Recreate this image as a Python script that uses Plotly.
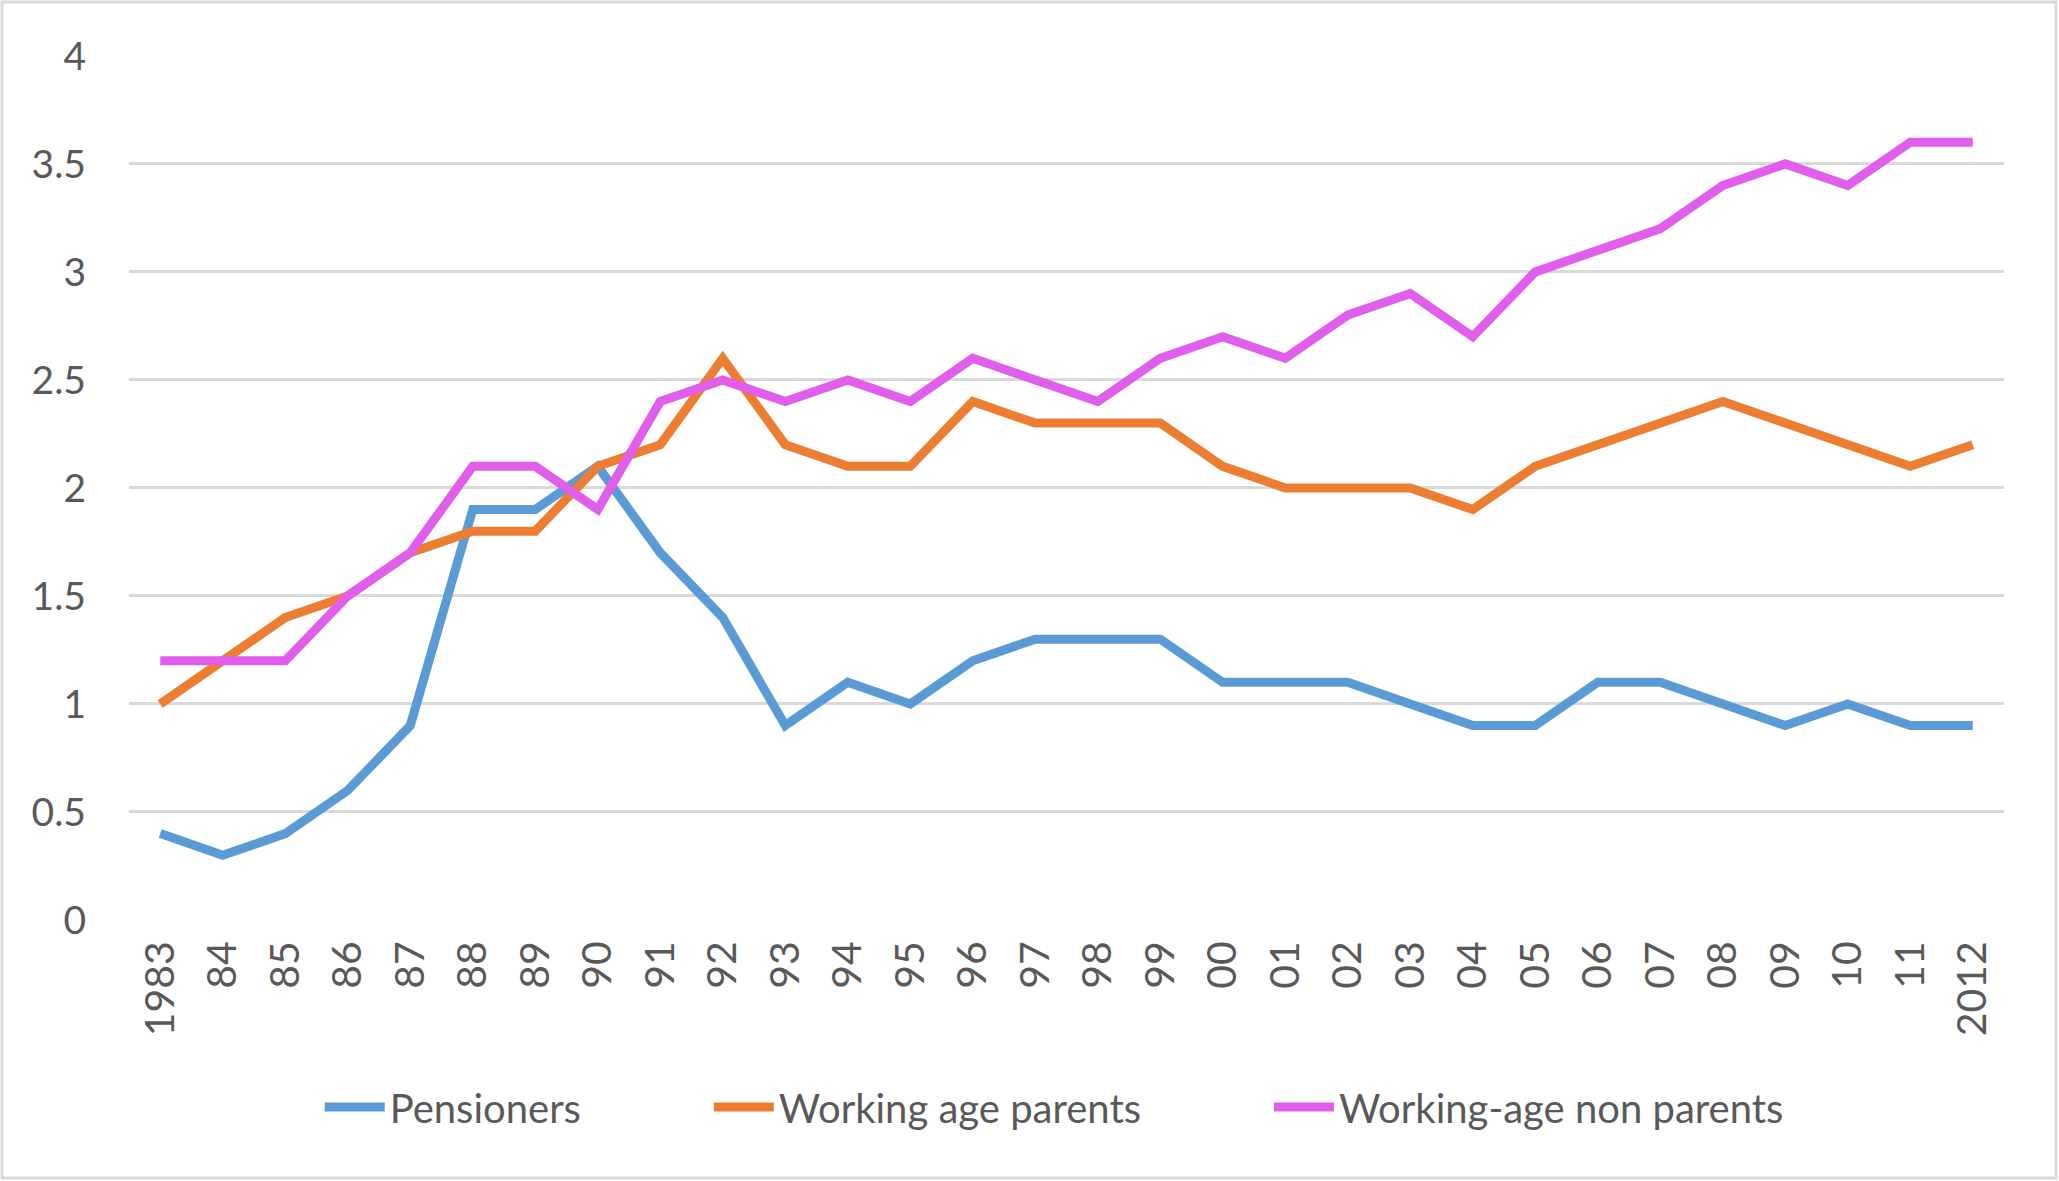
import plotly.graph_objects as go

years = ["1983", "84", "85", "86", "87", "88", "89", "90", "91", "92", "93", "94", "95", "96", "97",
         "98", "99", "00", "01", "02", "03", "04", "05", "06", "07", "08", "09", "10", "11", "2012"]

pensioners = [0.4, 0.3, 0.4, 0.6, 0.9, 1.9, 1.9, 2.1, 1.7, 1.4, 0.9, 1.1, 1.0, 1.2, 1.3,
              1.3, 1.3, 1.1, 1.1, 1.1, 1.0, 0.9, 0.9, 1.1, 1.1, 1.0, 0.9, 1.0, 0.9, 0.9]
working_parents = [1.0, 1.2, 1.4, 1.5, 1.7, 1.8, 1.8, 2.1, 2.2, 2.6, 2.2, 2.1, 2.1, 2.4, 2.3,
                   2.3, 2.3, 2.1, 2.0, 2.0, 2.0, 1.9, 2.1, 2.2, 2.3, 2.4, 2.3, 2.2, 2.1, 2.2]
non_parents = [1.2, 1.2, 1.2, 1.5, 1.7, 2.1, 2.1, 1.9, 2.4, 2.5, 2.4, 2.5, 2.4, 2.6, 2.5,
               2.4, 2.6, 2.7, 2.6, 2.8, 2.9, 2.7, 3.0, 3.1, 3.2, 3.4, 3.5, 3.4, 3.6, 3.6]

y_ticks = [0, 0.5, 1, 1.5, 2, 2.5, 3, 3.5, 4]
y_tick_labels = ["0", "0.5", "1", "1.5", "2", "2.5", "3", "3.5", "4"]

series = [
    ("Pensioners", pensioners, "#5B9BD5"),
    ("Working age parents", working_parents, "#ED7D31"),
    ("Working-age non parents", non_parents, "#E15EED"),
]

NB = "\u00a0"
fig = go.Figure()
for i, (name, vals, color) in enumerate(series):
    label = name + (NB * 12 if i < len(series) - 1 else "")
    fig.add_trace(go.Scatter(x=years, y=vals, name=label, mode="lines",
                             line=dict(color=color, width=9)))

W, H = 2059, 1181
ml, mr, mt, mb = 129, 55, 55, 261
pw, ph = W - ml - mr, H - mt - mb

fig.update_layout(
    width=W, height=H,
    margin=dict(l=ml, r=mr, t=mt, b=mb, autoexpand=False),
    paper_bgcolor="white", plot_bgcolor="white",
    font=dict(family="Lato, Carlito, Calibri, sans-serif", color="#595959", size=40),
    showlegend=True,
    legend=dict(orientation="h", x=0.512, xref="container", xanchor="center",
                y=1 - 1107 / H, yref="container", yanchor="middle",
                font=dict(size=40, color="#595959"), itemwidth=60),
    xaxis=dict(type="category", range=[-0.5, len(years) - 0.5], tickangle=-90,
               showgrid=False, zeroline=False,
               showline=False, ticks="", tickfont=dict(size=41), ticklabelstandoff=12,
               automargin=False),
    yaxis=dict(range=[0, 4.004], tickmode="array", tickvals=y_ticks, ticktext=y_tick_labels,
               showgrid=True, gridcolor="#D9D9D9", gridwidth=3,
               zeroline=False, showline=False, ticks="", tickfont=dict(size=39),
               ticklabelstandoff=42, automargin=False),
    shapes=[dict(type="rect", xref="paper", yref="paper",
                 x0=(2 - ml) / pw, x1=(W - 3 - ml) / pw,
                 y0=-(H - 3 - mt - ph) / ph, y1=(H - mb - 2) / ph,
                 line=dict(color="#D9D9D9", width=3), fillcolor="rgba(0,0,0,0)", layer="below")],
)

fig.write_html("out.html", config={"displayModeBar": False},
               post_script="document.body.style.margin='0';document.body.style.overflow='hidden';")
